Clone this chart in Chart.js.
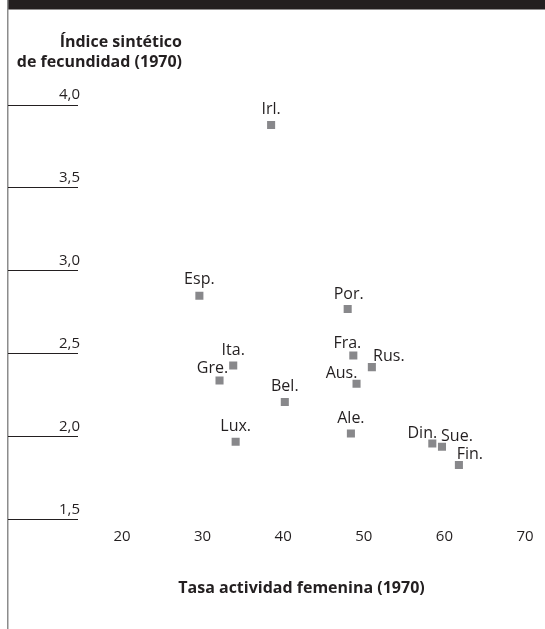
<!DOCTYPE html>
<html>
<head>
<meta charset="utf-8">
<script src="https://cdn.jsdelivr.net/npm/chart.js@4.4.0/dist/chart.umd.min.js"></script>
<style>
  html, body { margin: 0; padding: 0; background: #fff; }
  #wrap { width: 545px; height: 629px; }
</style>
</head>
<body>
<div id="wrap"><canvas id="chart" width="545" height="629"></canvas></div>
<script>
const countries = ["Irl.", "Esp.", "Por.", "Ita.", "Gre.", "Lux.", "Ale.", "Din.", "Sue.", "Fin.", "Fra.", "Rus.", "Aus.", "Bel."];
const actividad = [38.5, 29.6, 48.0, 33.8, 32.1, 34.1, 48.4, 58.5, 59.7, 61.8, 48.7, 51.0, 49.1, 40.2];
const fecundidad = [3.88, 2.85, 2.77, 2.43, 2.34, 1.97, 2.02, 1.96, 1.94, 1.83, 2.49, 2.42, 2.32, 2.21];
const xTicks = [20, 30, 40, 50, 60, 70];
const yTicks = [1.5, 2.0, 2.5, 3.0, 3.5, 4.0];

// label placement relative to each square [dx, dy]
const labelShift = [[0, 11], [0, 11.5], [1, 10.5], [0, 10.5], [-7, 7.5], [0, 10.5], [0, 10.5],
	[-10, 5.5], [15, 6], [11, 6.5], [-6, 7.5], [17, 6.5], [-15, 5.5], [0, 11]];

const FONT = "'Open Sans', 'DejaVu Sans', sans-serif";
const TEXT = "#231f20";

const points = actividad.map((x, i) => ({ x: x, y: fecundidad[i] }));

const frame = {
	id: "frame",
	beforeDraw(chart){
		const ctx = chart.ctx;
		ctx.save();
		ctx.fillStyle = "#231f20";
		ctx.fillRect(7, 0, 538, 9.5);
		ctx.fillStyle = "#8c8c8c";
		ctx.fillRect(7, 0, 1.5, 629);
		ctx.restore();
	},
	afterDraw(chart){
		const ctx = chart.ctx;
		ctx.save();
		ctx.fillStyle = TEXT;
		ctx.font = "bold 16px " + FONT;
		ctx.textAlign = "right";
		ctx.textBaseline = "alphabetic";
		ctx.fillText("Índice sintético", 182, 47);
		ctx.fillText("de fecundidad (1970)", 182, 67);
		ctx.restore();
	}
};

const pointLabels = {
	id: "pointLabels",
	afterDatasetsDraw(chart){
		const ctx = chart.ctx;
		const meta = chart.getDatasetMeta(0);
		ctx.save();
		ctx.fillStyle = TEXT;
		ctx.font = "16px " + FONT;
		ctx.textAlign = "center";
		ctx.textBaseline = "alphabetic";
		meta.data.forEach((pt, i) => {
			const s = labelShift[i];
			ctx.fillText(countries[i], pt.x + s[0], pt.y - s[1]);
		});
		ctx.restore();
	}
};

new Chart(document.getElementById("chart"), {
	type: "scatter",
	data: {
		datasets: [{
			data: points,
			pointStyle: "rect",
			pointRadius: 5.7,
			pointHoverRadius: 5.7,
			backgroundColor: "#88888b",
			borderWidth: 0
		}]
	},
	options: {
		responsive: false,
		animation: false,
		events: [],
		layout: { padding: { left: 8, right: 20, top: 105, bottom: 31 } },
		plugins: { legend: { display: false }, tooltip: { enabled: false } },
		scales: {
			x: {
				type: "linear",
				min: 20 - 44 / 8.06,
				max: 70,
				afterBuildTicks: scale => { scale.ticks = xTicks.map(v => ({ value: v })); },
				grid: { display: false, drawTicks: false },
				border: { display: false },
				ticks: {
					padding: 8,
					color: TEXT,
					font: { family: FONT, size: 15 },
					callback: v => String(v)
				},
				title: {
					display: true,
					text: "Tasa actividad femenina (1970)",
					color: TEXT,
					font: { family: FONT, size: 16, weight: "bold" },
					padding: { top: 25, bottom: 0 }
				}
			},
			y: {
				type: "linear",
				position: "left",
				min: 1.5,
				max: 4.0,
				afterBuildTicks: scale => { scale.ticks = yTicks.map(v => ({ value: v })); },
				afterFit: scale => { scale.width = 70; },
				grid: { drawOnChartArea: false, drawTicks: true, tickLength: 70, color: "#231f20", lineWidth: 1 },
				border: { display: false },
				ticks: {
					mirror: true,
					crossAlign: "far",
					padding: -19,
					labelOffset: -10,
					color: TEXT,
					font: { family: FONT, size: 15 },
					callback: v => v.toFixed(1).replace(".", ",")
				}
			}
		}
	},
	plugins: [frame, pointLabels]
});
</script>
</body>
</html>
